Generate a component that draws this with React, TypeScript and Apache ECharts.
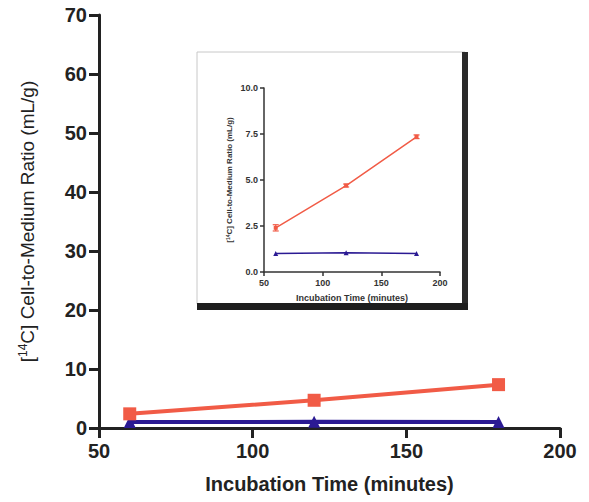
import React, { useEffect, useRef } from "react";
import * as echarts from "echarts";

const times = [60, 120, 180];
const redValues = [2.4, 4.7, 7.35];
const redErrors = [0.17, 0.08, 0.1];
const blueValues = [1.0, 1.05, 1.0];
const xTicks = [50, 100, 150, 200];
const mainYMax = 70;
const insetYMax = 10;

const RED = "#f15b46";
const BLUE = "#2b1a93";
const AXIS = "#222222";

export default function App() {
  const ref = useRef<HTMLDivElement>(null);
  useEffect(() => {
    if (!ref.current) return;
    const chart = echarts.init(ref.current, undefined, { renderer: "svg" });
    const pts = (vals: number[]) => times.map((t, i) => [t, vals[i]]);
    const errData = times.map((t, i) => [t, redValues[i] - redErrors[i], redValues[i] + redErrors[i]]);
    const font = "'Liberation Sans', Arial, sans-serif";
    chart.setOption({
      animation: false,
      backgroundColor: "#ffffff",
      textStyle: { fontFamily: font },
      graphic: [
        { type: "rect", z: -10, shape: { x: 197, y: 52, width: 268, height: 252 }, style: { fill: "#ffffff", stroke: "#c8c8c8", lineWidth: 1 } },
        { type: "rect", z: -9, shape: { x: 462, y: 52, width: 6, height: 258 }, style: { fill: "#2a2a2a" } },
        { type: "rect", z: -9, shape: { x: 197, y: 303, width: 271, height: 7 }, style: { fill: "#1e1e1e" } },
      ],
      grid: [
        { left: 99, right: 29, top: 15, bottom: 74 },
        { left: 264, right: 149, top: 88, bottom: 230 },
      ],
      xAxis: [
        {
          gridIndex: 0, type: "value", min: 50, max: 200, interval: 50,
          axisLine: { show: true, onZero: false, lineStyle: { color: AXIS, width: 3 } },
          axisTick: { show: true, length: 10, lineStyle: { color: AXIS, width: 3 } },
          splitLine: { show: false },
          axisLabel: { color: "#222", fontSize: 20, fontWeight: "bold", margin: 13, fontFamily: font,
            formatter: (v: number) => (xTicks.includes(v) ? String(v) : "") },
          name: "Incubation Time (minutes)", nameLocation: "middle", nameGap: 46,
          nameTextStyle: { color: "#222", fontSize: 20, fontWeight: "bold", fontFamily: font },
        },
        {
          gridIndex: 1, type: "value", min: 50, max: 200, interval: 50,
          axisLine: { show: true, onZero: false, lineStyle: { color: "#333", width: 1.5 } },
          axisTick: { show: true, length: 4, lineStyle: { color: "#333", width: 1.5 } },
          splitLine: { show: false },
          axisLabel: { color: "#333", fontSize: 9, fontWeight: "bold", margin: 6, fontFamily: font },
          name: "Incubation Time (minutes)", nameLocation: "middle", nameGap: 21,
          nameTextStyle: { color: "#333", fontSize: 9, fontWeight: "bold", fontFamily: font },
        },
      ],
      yAxis: [
        {
          gridIndex: 0, type: "value", min: 0, max: mainYMax, interval: 10,
          axisLine: { show: true, onZero: false, lineStyle: { color: AXIS, width: 3 } },
          axisTick: { show: true, length: 10, lineStyle: { color: AXIS, width: 3 } },
          splitLine: { show: false },
          axisLabel: { color: "#222", fontSize: 20, fontWeight: "bold", margin: 12, fontFamily: font },
          name: "[{sup|14}C] Cell-to-Medium Ratio (mL/g)", nameLocation: "middle", nameGap: 62, nameRotate: 90,
          nameTextStyle: { color: "#222", fontSize: 19, fontFamily: font,
            rich: { sup: { fontSize: 12, verticalAlign: "top", color: "#222", fontFamily: font, padding: [0, 0, 8, 0] } } },
        },
        {
          gridIndex: 1, type: "value", min: 0, max: insetYMax, interval: 2.5,
          axisLine: { show: true, onZero: false, lineStyle: { color: "#333", width: 1.5 } },
          axisTick: { show: true, length: 4, lineStyle: { color: "#333", width: 1.5 } },
          splitLine: { show: false },
          axisLabel: { color: "#333", fontSize: 9, fontWeight: "bold", margin: 6, fontFamily: font,
            formatter: (v: number) => v.toFixed(1) },
          name: "[{sup|14}C] Cell-to-Medium Ratio (mL/g)", nameLocation: "middle", nameGap: 30, nameRotate: 90,
          nameTextStyle: { color: "#333", fontSize: 8, fontWeight: "bold", fontFamily: font,
            rich: { sup: { fontSize: 5, verticalAlign: "top", color: "#333", fontWeight: "bold", padding: [0, 0, 4, 0] } } },
        },
      ],
      series: [
        {
          type: "line", xAxisIndex: 0, yAxisIndex: 0, data: pts(blueValues),
          symbol: "triangle", symbolSize: 12, lineStyle: { color: BLUE, width: 4 },
          itemStyle: { color: BLUE }, z: 3,
        },
        {
          type: "line", xAxisIndex: 0, yAxisIndex: 0, data: pts(redValues),
          symbol: "rect", symbolSize: 13, lineStyle: { color: RED, width: 4 },
          itemStyle: { color: RED }, z: 4,
        },
        {
          type: "line", xAxisIndex: 1, yAxisIndex: 1, data: pts(blueValues),
          symbol: "triangle", symbolSize: 5, lineStyle: { color: BLUE, width: 1.5 },
          itemStyle: { color: BLUE },
        },
        {
          type: "line", xAxisIndex: 1, yAxisIndex: 1, data: pts(redValues),
          symbol: "rect", symbolSize: 4, lineStyle: { color: RED, width: 1.5 },
          itemStyle: { color: RED },
        },
        {
          type: "custom", xAxisIndex: 1, yAxisIndex: 1, data: errData, z: 5,
          renderItem: (params: any, api: any) => {
            const x = api.value(0);
            const lo = api.coord([x, api.value(1)]);
            const hi = api.coord([x, api.value(2)]);
            const w = 3;
            const style = { stroke: RED, lineWidth: 1.2 };
            return {
              type: "group",
              children: [
                { type: "line", shape: { x1: lo[0], y1: lo[1], x2: hi[0], y2: hi[1] }, style },
                { type: "line", shape: { x1: lo[0] - w, y1: lo[1], x2: lo[0] + w, y2: lo[1] }, style },
                { type: "line", shape: { x1: hi[0] - w, y1: hi[1], x2: hi[0] + w, y2: hi[1] }, style },
              ],
            };
          },
        },
      ],
    });
    return () => chart.dispose();
  }, []);
  return <div ref={ref} style={{ width: 589, height: 502, position: "absolute", left: 0, top: 0 }} />;
}
